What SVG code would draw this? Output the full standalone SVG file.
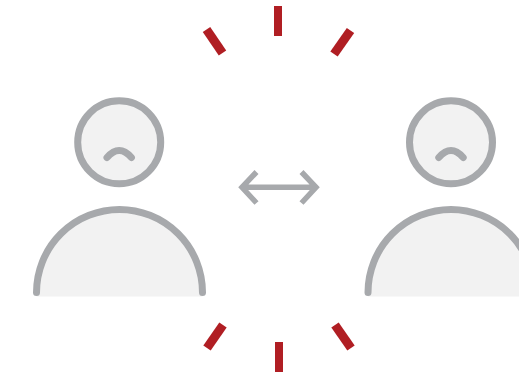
<svg xmlns="http://www.w3.org/2000/svg" width="519" height="378" viewBox="0 0 519 378">
<style>
.fill{fill:#f2f2f2;stroke:none}
.line{fill:none;stroke:#a7a9ac;stroke-width:7;stroke-linecap:round}
.head{fill:#f2f2f2;stroke:#a7a9ac;stroke-width:7}
.tick{fill:none;stroke:#b01e23;stroke-width:8}
.diag{stroke-width:9}
.arrow{fill:none;stroke:#a7a9ac;stroke-width:5.5}
</style>
<rect width="519" height="378" fill="#fff"/>
<g id="person-left">
<path class="fill" d="M36.5 296.5V292.5A83 83 0 0 1 202.5 292.5V296.5Z"/>
<path class="line" d="M36.5 292.5A83 83 0 0 1 202.5 292.5"/>
<circle class="head" cx="119.2" cy="142.3" r="41.5"/>
<path class="line" d="M107 157.5Q119.2 143.5 131.4 157.5"/>
</g>
<g id="person-right">
<path class="fill" d="M368 296.5V292.5A83 83 0 0 1 534 292.5V296.5Z"/>
<path class="line" d="M368 292.5A83 83 0 0 1 534 292.5"/>
<circle class="head" cx="451" cy="142.3" r="41.5"/>
<path class="line" d="M438.8 157.5Q451 143.5 463.2 157.5"/>
</g>
<g id="connectors">
<path class="arrow" d="M243 187.3H315M256.5 172L242 187.3L256.5 203M301.5 172L316 187.3L301.5 203"/>
</g>
<g id="ticks">
<path class="tick" d="M278 6V36"/>
<path class="tick" d="M279 342V372"/>
<path class="tick diag" d="M206.5 29.5L222.5 53"/>
<path class="tick diag" d="M350.5 30.5L334 54"/>
<path class="tick diag" d="M223 325L207 348"/>
<path class="tick diag" d="M335 325L351 348"/>
</g>
</svg>
